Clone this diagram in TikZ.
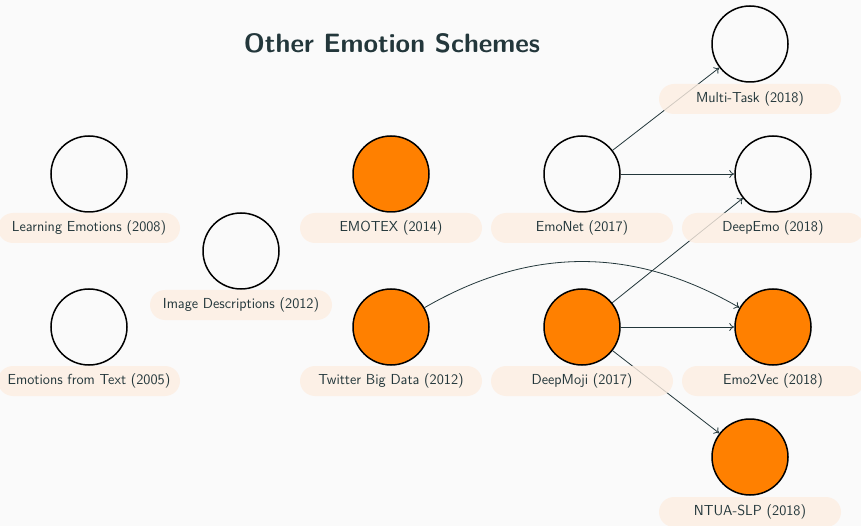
\documentclass[tikz,border=0pt]{standalone}
\usetikzlibrary{arrows.meta}
\definecolor{bgcol}{HTML}{FAFAFA}
\definecolor{ink}{HTML}{23373B}
\definecolor{pillcol}{HTML}{FDEEE2}
\definecolor{hot}{HTML}{FF8000}
\begin{document}
\begin{tikzpicture}[x=1pt,y=-1pt,
  paper/.style={circle, draw=black, line width=1.5pt, minimum size=76pt, inner sep=0pt},
  hotpaper/.style={paper, fill=hot},
  pill/.style={rounded corners=15pt, fill=pillcol, fill opacity=0.8, text opacity=1,
    text=ink, minimum width=182pt, minimum height=30pt, inner sep=0pt,
    font=\sffamily\fontsize{14.5}{17}\selectfont},
  link/.style={draw=ink, line width=0.8pt, -{To[length=5pt,width=8pt]}}]
\fill[bgcol] (0,0) rectangle (861,526);
\useasboundingbox (0,0) rectangle (861,526);

\node[text=ink, font=\sffamily\bfseries\fontsize{26.5}{30}\selectfont] (title) at (392,43) {Other Emotion Schemes};

% papers
\node[paper]    (le)  at (89,174)  {};
\node[paper]    (eft) at (89,327)  {};
\node[paper]    (id)  at (241,251) {};
\node[hotpaper] (emx) at (391,174) {};
\node[hotpaper] (tbd) at (391,327) {};
\node[paper]    (enet) at (582,174) {};
\node[hotpaper] (dm)  at (582,327) {};
\node[paper]    (mt)  at (750,44)  {};
\node[paper]    (de)  at (773,174) {};
\node[hotpaper] (e2v) at (773,327) {};
\node[hotpaper] (ntua) at (750,457) {};

% links
\draw[link] (enet) -- (mt);
\draw[link] (enet) -- (de);
\draw[link] (dm) -- (de);
\draw[link] (dm) -- (e2v);
\draw[link] (dm) -- (ntua);
\draw[link] (tbd) to[bend left=30] (e2v);

% captions
\node[pill] (lel)  at (89,228)  {Learning Emotions (2008)};
\node[pill] (eftl) at (89,381)  {Emotions from Text (2005)};
\node[pill] (idl)  at (241,305) {Image Descriptions (2012)};
\node[pill] (emxl) at (391,228) {EMOTEX (2014)};
\node[pill] (tbdl) at (391,381) {Twitter Big Data (2012)};
\node[pill] (enetl) at (582,228) {EmoNet (2017)};
\node[pill] (dml)  at (582,381) {DeepMoji (2017)};
\node[pill] (mtl)  at (750,99)  {Multi-Task (2018)};
\node[pill] (del)  at (773,228) {DeepEmo (2018)};
\node[pill] (e2vl) at (773,381) {Emo2Vec (2018)};
\node[pill] (ntual) at (750,512) {NTUA-SLP (2018)};
\end{tikzpicture}
\end{document}
